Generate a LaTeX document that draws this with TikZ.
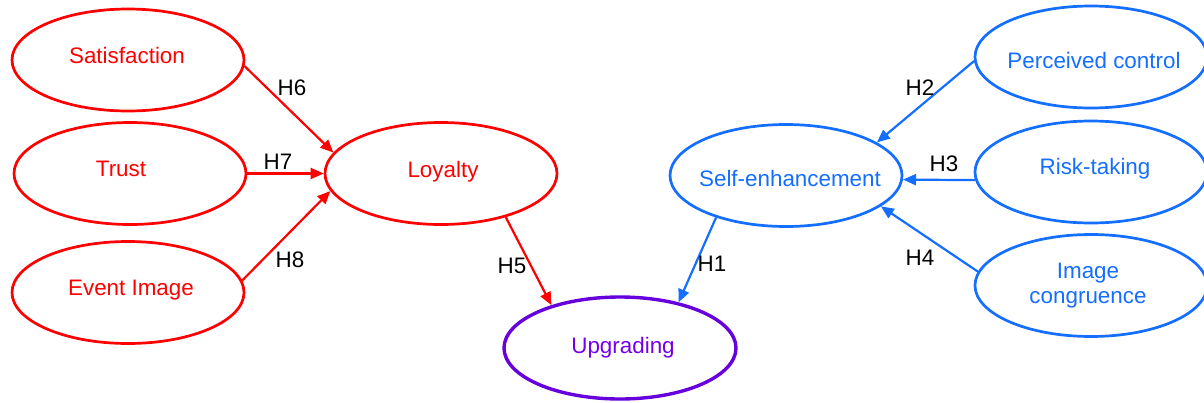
\documentclass[tikz,border=0pt]{standalone}
\usepackage{fontspec}
\setmainfont{Liberation Sans}
\usetikzlibrary{shapes.geometric,arrows.meta}

\definecolor{cred}{RGB}{255,0,0}
\definecolor{cblue}{RGB}{20,110,255}
\definecolor{cpurple}{RGB}{102,0,220}
\definecolor{cpurpletext}{RGB}{115,0,235}

\tikzset{
  latent/.style={ellipse, draw, line width=1.35pt, inner sep=0pt,
    minimum width=116pt, minimum height=51pt},
  caption/.style={anchor=base, inner sep=0pt, align=center,
    font=\fontsize{11.2}{12.5}\selectfont},
  hyp/.style={-{Triangle[length=6.5pt,width=5.5pt]}, line width=1.1pt},
  hlabel/.style={anchor=base, inner sep=0pt, text=black,
    font=\fontsize{11.2}{13}\selectfont},
}

\begin{document}
\begin{tikzpicture}[x=0.5pt,y=-0.5pt]
\useasboundingbox (0,0) rectangle (1204,402);

% antecedents of loyalty
\node[latent, cred] (sat) at (128,60) {};
\node[latent, cred] (trust) at (130,173.5) {};
\node[latent, cred] (event) at (128,292.5) {};
\node[latent, cred] (loyalty) at (441,173.5) {};

% outcome
\node[latent, cpurple, line width=1.7pt] (upg) at (620,348) {};

% self-enhancement and its drivers
\node[latent, cblue] (self) at (786,175.5) {};
\node[latent, cblue] (control) at (1091,57) {};
\node[latent, cblue] (risk) at (1091,172) {};
\node[latent, cblue] (congr) at (1091,285.5) {};

% construct names
\node[caption, text=cred] (tsat) at (127,63.5) {Satisfaction};
\node[caption, text=cred] (ttrust) at (121,176.7) {Trust};
\node[caption, text=cred] (tevent) at (131,295.3) {Event Image};
\node[caption, text=cred] (tloyalty) at (443,177) {Loyalty};
\node[caption, text=cpurpletext] (tupg) at (623,353) {Upgrading};
\node[caption, text=cblue] (tself) at (790,186) {Self-enhancement};
\node[caption, text=cblue] (tcontrol) at (1094,68.3) {Perceived control};
\node[caption, text=cblue] (trisk) at (1095,174) {Risk-taking};
\node[caption, text=cblue] (tcongr) at (1088,303.5) {Image\\congruence};

% hypothesised paths
\draw[hyp, cred] (sat.-3) -- (loyalty.169);
\draw[hyp, cred] (trust.east) -- (loyalty.west);
\draw[hyp, cred] (event.6) -- (loyalty.-171);
\draw[hyp, cred] (loyalty.-34) -- (upg.148);
\draw[hyp, cblue] (self.-149) -- (upg.38);
\draw[hyp, cblue] (control.182) -- (self.20.5);
\draw[hyp, cblue] (risk.184.5) -- (self.-2.6);
\draw[hyp, cblue] (congr.173.8) -- (self.-18.3);

% path labels
\node[hlabel] (h6) at (292,95) {H6};
\node[hlabel] (h7) at (278,169) {H7};
\node[hlabel] (h8) at (290,267) {H8};
\node[hlabel] (h5) at (512,273) {H5};
\node[hlabel] (h1) at (712,271) {H1};
\node[hlabel] (h2) at (920,95) {H2};
\node[hlabel] (h3) at (944,171) {H3};
\node[hlabel] (h4) at (920,265) {H4};
\end{tikzpicture}
\end{document}
